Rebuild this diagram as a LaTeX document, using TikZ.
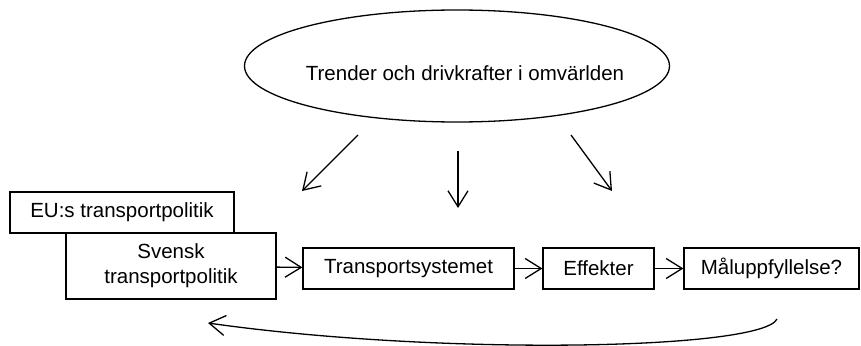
\documentclass[tikz,border=0pt]{standalone}
\usepackage{fontspec}
\setmainfont{Liberation Sans}
\usetikzlibrary{arrows.meta,shapes.geometric}
\begin{document}
\begin{tikzpicture}[x=1pt,y=-1pt,
  every node/.style={font=\fontsize{20.5}{25}\selectfont, inner sep=0pt},
  box/.style={draw, line width=1.3pt, fill=white, rectangle, minimum height=41pt, align=center},
  arr/.style={line width=1.3pt, -{Straight Barb[length=16pt,width=20pt,line width=1.3pt]}}]
\useasboundingbox (0,0) rectangle (861,345);
\node[draw, ellipse, line width=1.3pt, minimum width=425pt, minimum height=112pt] (trend) at (457,66) {};
\node (trendtext) at (465,73) {Trender och drivkrafter i omvärlden};
\node[box, minimum width=224pt] (eu) at (122,212.5) {EU:s transportpolitik};
\node[box, minimum width=210pt, minimum height=66pt] (sv) at (171,266) {Svensk\\transportpolitik};
\node[box, minimum width=211pt] (ts) at (408.5,268.5) {Transportsystemet};
\node[box, minimum width=111pt] (ef) at (598.5,268.5) {Effekter};
\node[box, minimum width=175pt] (mal) at (771.5,268.5) {Måluppfyllelse?};
\coordinate (a1s) at (358,135); \coordinate (a1e) at (302,191);
\coordinate (a2s) at (458,151); \coordinate (a2e) at (458,208);
\coordinate (a3s) at (571,135); \coordinate (a3e) at (612,191);
\draw[arr] (a1s) -- (a1e);
\draw[arr] (a2s) -- (a2e);
\draw[arr] (a3s) -- (a3e);
\draw[arr] (sv) -- (ts);
\draw[arr] (ts) -- (ef);
\draw[arr] (ef) -- (mal);
\coordinate (fbs) at (777,319);
\coordinate (fbe) at (208,323);
\draw[arr] (fbs) .. controls (762,350) and (440,356) .. (fbe);
\end{tikzpicture}
\end{document}
